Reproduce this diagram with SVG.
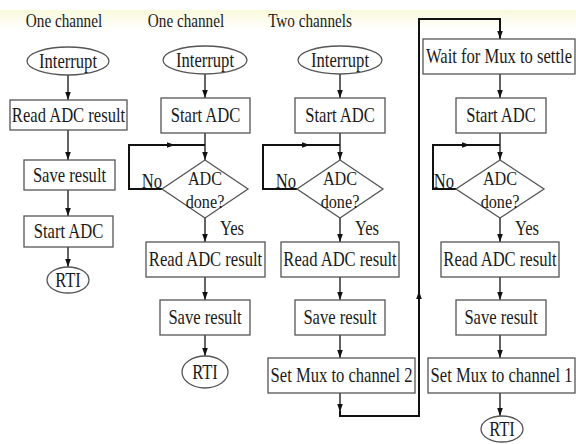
<svg xmlns="http://www.w3.org/2000/svg" width="576" height="444" viewBox="0 0 576 444">
<defs>
<linearGradient id="band" x1="0" y1="0" x2="0" y2="1">
<stop offset="0" stop-color="#f9f9dc"/>
<stop offset="1" stop-color="#ffffff"/>
</linearGradient>
<marker id="ah" markerWidth="8" markerHeight="8" viewBox="0 0 10 10" refX="10" refY="5" orient="auto" markerUnits="userSpaceOnUse">
<path d="M0,1.5 L10,5 L0,8.5 Z" fill="#111"/>
</marker>
</defs>
<style>
.box{fill:#fff;stroke:#555;stroke-width:1.3}
.t{font-family:"Liberation Serif","Times New Roman",serif;font-size:20px;fill:#1a1a1a;text-anchor:middle}
.d{font-family:"Liberation Serif","Times New Roman",serif;font-size:19.5px;fill:#1a1a1a;text-anchor:middle}
.h{font-family:"Liberation Serif","Times New Roman",serif;font-size:19px;fill:#1a1a1a;text-anchor:middle}
.c{fill:none;stroke:#222;stroke-width:1.4}
.lp{fill:none;stroke:#111;stroke-width:2}
</style>
<rect x="0" y="10" width="576" height="20" fill="url(#band)"/>

<g id="titles">
<text class="h" transform="translate(64,27) scale(0.8,1)">One channel</text>
<text class="h" transform="translate(186,27) scale(0.8,1)">One channel</text>
<text class="h" transform="translate(310,27) scale(0.8,1)">Two channels</text>
</g>

<g id="connectors">
<!-- column 1 -->
<path class="c" d="M68,75 V100" marker-end="url(#ah)"/>
<path class="c" d="M68,130 V160" marker-end="url(#ah)"/>
<path class="c" d="M68,190 V216" marker-end="url(#ah)"/>
<path class="c" d="M68,247 V267" marker-end="url(#ah)"/>
<!-- column 2 -->
<path class="c" d="M205,74 V98" marker-end="url(#ah)"/>
<path class="c" d="M205,133 V160" marker-end="url(#ah)"/>
<path class="lp" d="M162,189 H129 V145 H175" marker-end="url(#ah)"/>
<path class="lp" d="M174,145 H205"/>
<path class="c" d="M205,218 V242" marker-end="url(#ah)"/>
<path class="c" d="M205,277 V300" marker-end="url(#ah)"/>
<path class="c" d="M205,335 V356" marker-end="url(#ah)"/>
<!-- column 3 -->
<path class="c" d="M340,74 V98" marker-end="url(#ah)"/>
<path class="c" d="M340,133 V160" marker-end="url(#ah)"/>
<path class="lp" d="M297,189 H263 V145 H310" marker-end="url(#ah)"/>
<path class="lp" d="M309,145 H340"/>
<path class="c" d="M340,218 V242" marker-end="url(#ah)"/>
<path class="c" d="M340,277 V300" marker-end="url(#ah)"/>
<path class="c" d="M340,335 V358" marker-end="url(#ah)"/>
<path class="c" d="M340,393 V412" marker-end="url(#ah)"/>
<path class="lp" d="M340,411 V416 H419 V291" marker-end="url(#ah)"/>
<path class="lp" d="M419,292 V19 H500 V39" marker-end="url(#ah)"/>
<!-- column 4 -->
<path class="c" d="M500,74 V98" marker-end="url(#ah)"/>
<path class="c" d="M500,133 V160" marker-end="url(#ah)"/>
<path class="lp" d="M457,189 H433 V145 H470" marker-end="url(#ah)"/>
<path class="lp" d="M469,145 H500"/>
<path class="c" d="M500,218 V242" marker-end="url(#ah)"/>
<path class="c" d="M500,277 V300" marker-end="url(#ah)"/>
<path class="c" d="M500,335 V358" marker-end="url(#ah)"/>
<path class="c" d="M500,393 V416" marker-end="url(#ah)"/>
</g>

<!-- column 1 nodes -->
<g id="c1-interrupt"><ellipse class="box" cx="68" cy="61" rx="41" ry="14"/><text class="t" transform="translate(68,67.5) scale(0.83,1)">Interrupt</text></g>
<g id="c1-read"><rect class="box" x="10" y="100" width="117" height="30"/><text class="t" transform="translate(68.5,121.5) scale(0.83,1)">Read ADC result</text></g>
<g id="c1-save"><rect class="box" x="24" y="160" width="91" height="30"/><text class="t" transform="translate(69.5,181.5) scale(0.83,1)">Save result</text></g>
<g id="c1-start"><rect class="box" x="24" y="216" width="89" height="31"/><text class="t" transform="translate(68.5,238) scale(0.83,1)">Start ADC</text></g>
<g id="c1-rti"><ellipse class="box" cx="68" cy="280" rx="21" ry="13"/><text class="t" transform="translate(68,287) scale(0.83,1)">RTI</text></g>

<!-- column 2 nodes -->
<g id="c2-interrupt"><ellipse class="box" cx="205" cy="60" rx="42" ry="14"/><text class="t" transform="translate(205,66.5) scale(0.83,1)">Interrupt</text></g>
<g id="c2-start"><rect class="box" x="161" y="98" width="89" height="35"/><text class="t" transform="translate(205.5,122) scale(0.83,1)">Start ADC</text></g>
<g id="c2-done"><polygon class="box" points="205,160 248,189 205,218 162,189"/><text class="d" transform="translate(205,185) scale(0.83,1)">ADC</text><text class="d" transform="translate(205,207.5) scale(0.83,1)">done?</text></g>
<g id="c2-labels"><text class="t" transform="translate(152,188) scale(0.83,1)">No</text><text class="t" transform="translate(232,235) scale(0.83,1)">Yes</text></g>
<g id="c2-read"><rect class="box" x="146" y="242" width="119" height="35"/><text class="t" transform="translate(205.5,266) scale(0.83,1)">Read ADC result</text></g>
<g id="c2-save"><rect class="box" x="160" y="300" width="90" height="35"/><text class="t" transform="translate(205,324) scale(0.83,1)">Save result</text></g>
<g id="c2-rti"><ellipse class="box" cx="205" cy="372" rx="23" ry="16"/><text class="t" transform="translate(205,379) scale(0.83,1)">RTI</text></g>

<!-- column 3 nodes -->
<g id="c3-interrupt"><ellipse class="box" cx="340" cy="60" rx="42" ry="14"/><text class="t" transform="translate(340,66.5) scale(0.83,1)">Interrupt</text></g>
<g id="c3-start"><rect class="box" x="295" y="98" width="90" height="35"/><text class="t" transform="translate(340,122) scale(0.83,1)">Start ADC</text></g>
<g id="c3-done"><polygon class="box" points="340,160 383,189 340,218 297,189"/><text class="d" transform="translate(340,185) scale(0.83,1)">ADC</text><text class="d" transform="translate(340,207.5) scale(0.83,1)">done?</text></g>
<g id="c3-labels"><text class="t" transform="translate(286,188) scale(0.83,1)">No</text><text class="t" transform="translate(367,235) scale(0.83,1)">Yes</text></g>
<g id="c3-read"><rect class="box" x="281" y="242" width="118" height="35"/><text class="t" transform="translate(340,266) scale(0.83,1)">Read ADC result</text></g>
<g id="c3-save"><rect class="box" x="295" y="300" width="90" height="35"/><text class="t" transform="translate(340,324) scale(0.83,1)">Save result</text></g>
<g id="c3-setmux"><rect class="box" x="268" y="358" width="147" height="35"/><text class="t" transform="translate(341.5,382) scale(0.83,1)">Set Mux to channel 2</text></g>

<!-- column 4 nodes -->
<g id="c4-wait"><rect class="box" x="423" y="39" width="152" height="35"/><text class="t" transform="translate(499,63) scale(0.83,1)">Wait for Mux to settle</text></g>
<g id="c4-start"><rect class="box" x="456" y="98" width="90" height="35"/><text class="t" transform="translate(501,122) scale(0.83,1)">Start ADC</text></g>
<g id="c4-done"><polygon class="box" points="500,160 544,189 500,218 456,189"/><text class="d" transform="translate(500,185) scale(0.83,1)">ADC</text><text class="d" transform="translate(500,207.5) scale(0.83,1)">done?</text></g>
<g id="c4-labels"><text class="t" transform="translate(444,188) scale(0.83,1)">No</text><text class="t" transform="translate(527,235) scale(0.83,1)">Yes</text></g>
<g id="c4-read"><rect class="box" x="441" y="242" width="118" height="35"/><text class="t" transform="translate(500,266) scale(0.83,1)">Read ADC result</text></g>
<g id="c4-save"><rect class="box" x="456" y="300" width="90" height="35"/><text class="t" transform="translate(501,324) scale(0.83,1)">Save result</text></g>
<g id="c4-setmux"><rect class="box" x="428" y="358" width="147" height="35"/><text class="t" transform="translate(501.5,382) scale(0.83,1)">Set Mux to channel 1</text></g>
<g id="c4-rti"><ellipse class="box" cx="502" cy="429" rx="21" ry="13"/><text class="t" transform="translate(502,436) scale(0.83,1)">RTI</text></g>
</svg>
